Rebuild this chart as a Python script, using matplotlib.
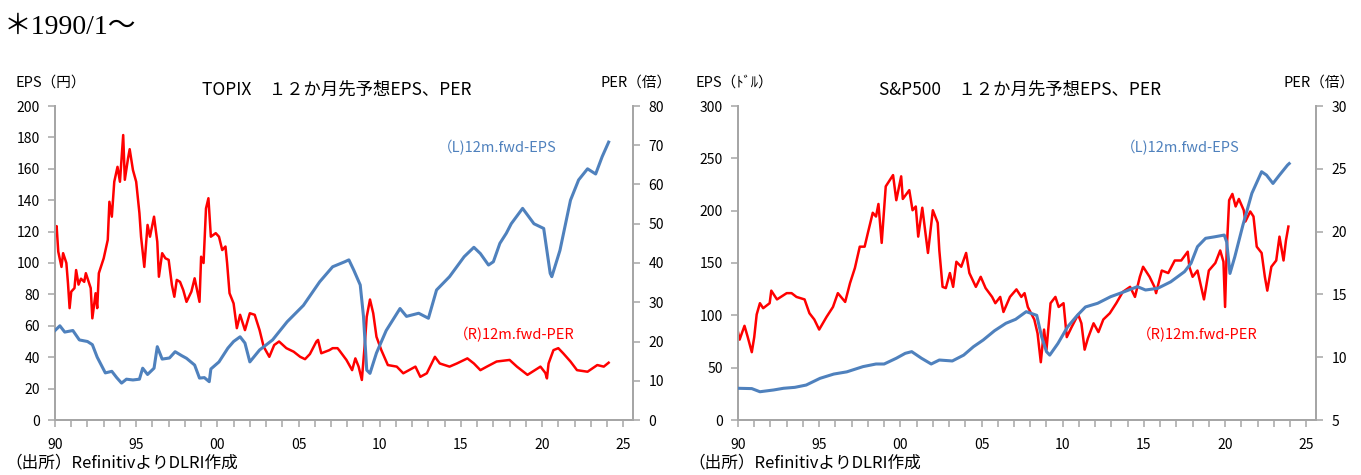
import matplotlib
matplotlib.use("Agg")
import matplotlib.pyplot as plt
from matplotlib.ticker import FixedLocator, MultipleLocator

plt.rcParams['font.family'] = ['Noto Sans CJK JP', 'DejaVu Sans']

# ---------------- data (year, value) ----------------
jp_eps_t = [1990.0, 1990.3, 1990.6, 1991.1, 1991.5, 1992.0, 1992.3, 1992.6, 1993.1, 1993.5, 1993.8,
            1994.1, 1994.4, 1994.8, 1995.2, 1995.4, 1995.7, 1996.1, 1996.3, 1996.6, 1997.05, 1997.4,
            1997.8, 1998.1, 1998.6, 1998.9, 1999.2, 1999.5, 1999.6, 2000.1, 2000.65, 2001.0, 2001.4,
            2001.7, 2002.0, 2002.6, 2003.4, 2004.3, 2005.3, 2006.3, 2007.1, 2007.85, 2008.1, 2008.4,
            2008.8, 2009.0, 2009.2, 2009.4, 2009.8, 2010.4, 2011.25, 2011.65, 2012.4, 2013.0, 2013.5,
            2014.3, 2015.2, 2015.8, 2016.2, 2016.7, 2017.0, 2017.4, 2017.8, 2018.1, 2018.8, 2019.5,
            2020.1, 2020.5, 2020.6, 2021.1, 2021.75, 2022.25, 2022.8, 2023.3, 2023.7, 2024.1]
jp_eps_v = [57, 60, 56, 57, 51, 50, 48, 40, 30, 31, 27,
            23.5, 26, 25.5, 26, 33, 29, 33, 46.7, 38.8, 39.5, 43.5,
            41, 39.3, 35, 26.7, 27, 24.4, 32.5, 37, 45.8, 50, 53,
            49, 37, 44.6, 51, 62.6, 73, 88, 97.6, 100.8, 102, 95.5,
            86, 66, 31.8, 29.7, 42.7, 57, 71, 66, 68, 64.8, 82.8,
            91.3, 104, 110, 106, 98.7, 100.8, 112.5, 119, 125, 134.8, 125,
            122, 93.4, 91.3, 108, 140, 152.9, 160, 156.7, 167.7, 177]

jp_per_t = [1990.0, 1990.1, 1990.2, 1990.4, 1990.5, 1990.7, 1990.8, 1990.9, 1991.0, 1991.2, 1991.3,
            1991.45, 1991.6, 1991.8, 1991.9, 1992.2, 1992.3, 1992.5, 1992.6, 1992.7, 1993.0, 1993.25,
            1993.35, 1993.5, 1993.65, 1993.85, 1994.0, 1994.2, 1994.3, 1994.5, 1994.6, 1994.8, 1995.0,
            1995.2, 1995.3, 1995.5, 1995.7, 1995.85, 1996.1, 1996.3, 1996.4, 1996.6, 1996.8, 1997.0,
            1997.2, 1997.35, 1997.5, 1997.7, 1997.9, 1998.1, 1998.4, 1998.6, 1998.9, 1999.0, 1999.15,
            1999.3, 1999.45, 1999.6, 1999.9, 2000.1, 2000.3, 2000.5, 2000.6, 2000.75, 2001.0, 2001.2,
            2001.4, 2001.7, 2002.0, 2002.3, 2002.6, 2002.85, 2003.2, 2003.5, 2003.8, 2004.25, 2004.7,
            2005.1, 2005.4, 2005.7, 2006.1, 2006.2, 2006.4, 2006.9, 2007.1, 2007.4, 2007.5, 2007.95,
            2008.3, 2008.5, 2008.7, 2008.9, 2009.1, 2009.2, 2009.4, 2009.6, 2009.8, 2010.1, 2010.5,
            2011.05, 2011.45, 2012.2, 2012.5, 2012.9, 2013.4, 2013.7, 2014.3, 2014.75, 2015.4, 2015.8,
            2016.2, 2016.6, 2017.2, 2018.0, 2018.45, 2019.1, 2019.9, 2020.2, 2020.3, 2020.4, 2020.7,
            2021.0, 2021.3, 2021.75, 2022.15, 2022.8, 2023.4, 2023.8, 2024.1]
jp_per_v = [48.8, 49.4, 42.9, 39, 42.5, 40, 34.8, 28.5, 32.7, 33.6, 38.2,
            34.5, 36, 35.2, 37.4, 33.6, 25.9, 32.3, 28.5, 37.4, 41.2, 45.9,
            55.6, 51.8, 60.7, 64.5, 60.7, 72.6, 61.2, 66.7, 69, 63.7, 60.7,
            52.7, 46.7, 39, 49.7, 46.7, 51.8, 45.4, 36.5, 42.5, 41.2, 40.8,
            34.4, 31.4, 35.7, 35.2, 33.1, 30.1, 32.7, 36.1, 30.1, 41.6, 40,
            53.9, 56.5, 46.7, 47.6, 46.7, 43.3, 44.2, 40, 32.3, 29.7, 23.4,
            26.8, 22.9, 27.2, 26.8, 22.9, 18.7, 16.1, 19.1, 20, 18.3, 17.4,
            16.1, 15.5, 16.8, 20, 20.4, 17, 17.8, 18.3, 18.3, 17.8, 15.3,
            12.7, 15.7, 13.6, 10.2, 20.4, 26.3, 30.7, 27.2, 21.2, 17.8, 14,
            13.6, 11.9, 13.6, 11, 11.9, 16.1, 14.4, 13.6, 14.4, 15.7, 14.4,
            12.7, 13.6, 14.9, 15.3, 13.6, 11.5, 13.6, 12, 10.6, 14.4, 17.8,
            18.3, 17, 14.9, 12.7, 12.3, 14, 13.6, 14.6]

us_eps_t = [1990.0, 1990.85, 1991.35, 1992.2, 1992.8, 1993.5, 1994.2, 1995.05, 1995.9, 1996.7, 1997.7,
            1998.5, 1999.0, 1999.75, 2000.3, 2000.7, 2001.3, 2001.9, 2002.4, 2003.2, 2003.9, 2004.5,
            2005.1, 2005.8, 2006.5, 2007.1, 2007.75, 2008.4, 2008.7, 2009.0, 2009.2, 2009.7, 2010.3,
            2010.9, 2011.4, 2012.15, 2012.95, 2013.8, 2014.6, 2015.1, 2015.85, 2016.65, 2017.5, 2017.9,
            2018.3, 2018.8, 2019.35, 2019.95, 2020.1, 2020.3, 2020.6, 2021.1, 2021.65, 2022.25, 2022.55,
            2022.95, 2023.35, 2023.85, 2023.95]
us_eps_v = [30.3, 30, 27, 28.7, 30.3, 31.2, 33.4, 39.8, 43.9, 46, 51,
            53.5, 53.5, 59, 63.7, 65.3, 59, 53.5, 57.3, 56.4, 62, 70,
            76.4, 85.3, 92.4, 96.2, 103.5, 100, 79.6, 65.3, 62, 73, 89,
            100, 108, 111.5, 117.8, 122.6, 127.4, 124.2, 125.8, 132, 141.7, 149.7,
            165.6, 173.6, 175, 176.7, 170, 140, 156, 186.3, 216.6, 237.2, 234,
            226, 234, 243.6, 245]

us_per_t = [1990.0, 1990.1, 1990.4, 1990.6, 1990.85, 1991.0, 1991.15, 1991.35, 1991.55, 1991.95, 1992.05,
            1992.4, 1993.0, 1993.3, 1993.6, 1994.1, 1994.4, 1994.7, 1995.0, 1995.45, 1995.85, 1996.15,
            1996.6, 1996.9, 1997.2, 1997.5, 1997.8, 1998.0, 1998.3, 1998.5, 1998.65, 1998.85, 1999.1,
            1999.35, 1999.55, 1999.75, 2000.05, 2000.15, 2000.55, 2000.75, 2000.95, 2001.1, 2001.35, 2001.7,
            2002.0, 2002.3, 2002.4, 2002.6, 2002.8, 2003.05, 2003.25, 2003.45, 2003.75, 2004.05, 2004.25,
            2004.65, 2004.95, 2005.25, 2005.65, 2005.85, 2006.15, 2006.35, 2006.75, 2007.15, 2007.45, 2007.65,
            2007.85, 2008.25, 2008.45, 2008.65, 2008.85, 2009.0, 2009.25, 2009.55, 2009.75, 2010.05, 2010.25,
            2010.55, 2010.95, 2011.15, 2011.35, 2011.55, 2011.9, 2012.2, 2012.5, 2012.9, 2013.3, 2013.7,
            2014.15, 2014.45, 2014.75, 2014.95, 2015.35, 2015.65, 2015.75, 2016.1, 2016.5, 2016.9, 2017.3,
            2017.7, 2017.8, 2018.0, 2018.3, 2018.7, 2019.0, 2019.4, 2019.7, 2019.9, 2020.0, 2020.1,
            2020.25, 2020.45, 2020.65, 2020.85, 2021.15, 2021.25, 2021.55, 2021.75, 2021.95, 2022.25, 2022.45,
            2022.6, 2022.85, 2023.15, 2023.35, 2023.6, 2023.75, 2023.9]
us_per_v = [12.0, 11.4, 12.5, 11.6, 10.4, 11.6, 13.4, 14.3, 13.9, 14.3, 15.3,
            14.6, 15.1, 15.1, 14.8, 14.6, 13.5, 13.0, 12.2, 13.2, 14.0, 15.1,
            14.4, 15.9, 17.1, 18.8, 18.8, 19.9, 21.5, 21.2, 22.2, 19.1, 23.6,
            24.1, 24.5, 22.5, 24.4, 22.6, 23.3, 21.7, 22.0, 19.6, 21.9, 18.3,
            21.7, 20.7, 18.5, 15.6, 15.5, 16.7, 15.6, 17.6, 17.2, 18.3, 16.7,
            15.6, 16.4, 15.5, 14.8, 14.3, 14.8, 13.6, 14.8, 15.4, 14.8, 15.1,
            14.0, 13.0, 11.9, 9.6, 12.2, 10.6, 14.3, 14.8, 14.0, 14.3, 11.6,
            12.4, 13.4, 12.7, 10.6, 11.5, 12.7, 12.0, 13.0, 13.5, 14.3, 15.2,
            15.6, 14.8, 16.4, 17.2, 16.4, 15.6, 15.1, 16.9, 16.7, 17.7, 17.7,
            18.4, 17.2, 16.4, 16.9, 14.6, 16.9, 17.5, 18.5, 17.6, 14.0, 18.5,
            22.5, 23.0, 22.0, 22.6, 21.7, 20.8, 21.6, 21.2, 18.8, 18.3, 16.4,
            15.3, 17.2, 17.7, 19.6, 17.7, 19.3, 20.4]

year_ticks = list(range(1990, 2026))
year_labels = {1990: '90', 1995: '95', 2000: '00', 2005: '05', 2010: '10', 2015: '15', 2020: '20', 2025: '25'}

panels = [
    dict(title='TOPIX\u3000１２か月先予想EPS、PER', lunit='EPS（円）', runit='PER（倍）',
         eps_t=jp_eps_t, eps_v=jp_eps_v, per_t=jp_per_t, per_v=jp_per_v,
         lylim=(0, 200), lstep=20, rylim=(0, 80), rstep=10, left_px=55),
    dict(title='S&P500\u3000１２か月先予想EPS、PER', lunit='EPS（ﾄﾞﾙ）', runit='PER（倍）',
         eps_t=us_eps_t, eps_v=us_eps_v, per_t=us_per_t, per_v=us_per_v,
         lylim=(0, 300), lstep=50, rylim=(5, 30), rstep=5, left_px=738),
]

W, H = 1361, 475
fig = plt.figure(figsize=(W / 100, H / 100), dpi=100)

BLUE = '#4F81BD'
RED = '#FF0000'
GREY = '#A6A6A6'
TXT = '#000000'
fs = 10

for p in panels:
    ax_l = fig.add_axes([p['left_px'] / W, (H - 420) / H, 578 / W, 314 / H])
    ax_r = ax_l.twinx()
    ax_l.set_zorder(ax_r.get_zorder() + 1)
    ax_l.patch.set_visible(False)

    ax_r.plot(p['per_t'], p['per_v'], color=RED, lw=1.8, zorder=2)
    ax_l.plot(p['eps_t'], p['eps_v'], color=BLUE, lw=2.2, zorder=3)

    ax_l.set_xlim(1990, 2025.6)
    ax_l.set_ylim(*p['lylim'])
    ax_r.set_ylim(*p['rylim'])
    ax_l.yaxis.set_major_locator(MultipleLocator(p['lstep']))
    ax_r.yaxis.set_major_locator(MultipleLocator(p['rstep']))
    ax_l.xaxis.set_major_locator(FixedLocator(year_ticks))
    ax_l.set_xticklabels([year_labels.get(y, '') for y in year_ticks])

    for a in (ax_l, ax_r):
        a.spines['top'].set_visible(False)
        for s in ('left', 'right', 'bottom'):
            a.spines[s].set_color(GREY)
            a.spines[s].set_linewidth(1.3)
        a.tick_params(colors=GREY, labelcolor=TXT, labelsize=fs, width=1.1, length=5, direction='out')
    ax_l.tick_params(axis='x', pad=8)
    ax_l.tick_params(axis='y', pad=6)
    ax_r.tick_params(axis='y', pad=6)
    for lbl in ax_l.get_xticklabels():
        lbl.set_x(lbl.get_position()[0])

    cx = (p['left_px'] + 289) / W
    fig.text(cx - 7 / W, (H - 90) / H, p['title'], ha='center', va='center', fontsize=12.5, color=TXT)
    fig.text((p['left_px'] - 4) / W, (H - 83) / H, p['lunit'], ha='center', va='center', fontsize=10.5, color=TXT)
    fig.text((p['left_px'] + 581) / W, (H - 83) / H, p['runit'], ha='center', va='center', fontsize=10.5, color=TXT)

    ax_l.text(0.766, 0.869, '（L)12m.fwd-EPS', transform=ax_l.transAxes, ha='center', va='center',
              fontsize=10.5, color=BLUE)
    ax_l.text(0.794, 0.272, '（R)12m.fwd-PER', transform=ax_l.transAxes, ha='center', va='center',
              fontsize=10.5, color=RED)

    fig.text((p['left_px'] - 50) / W, (H - 463) / H, '（出所）RefinitivよりDLRI作成', ha='left', va='center',
             fontsize=12, color=TXT)

fig.text(4 / W, (H - 27) / H, '＊1990/1～', ha='left', va='center', fontsize=20, color=TXT,
         family=['Liberation Serif', 'Noto Sans CJK JP'])

fig.savefig('out.png', dpi=100)
